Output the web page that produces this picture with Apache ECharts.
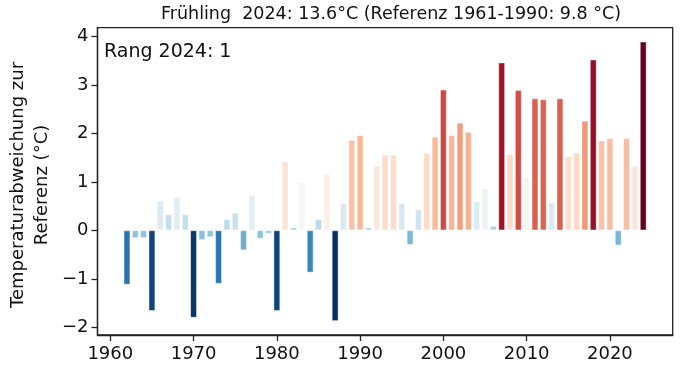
<!DOCTYPE html>
<html>
<head>
<meta charset="utf-8">
<script src="https://cdn.jsdelivr.net/npm/echarts@6/dist/echarts.min.js"></script>
<style>
html,body{margin:0;padding:0;background:#fff;}
#chart{width:680px;height:370px;}
</style>
</head>
<body>
<div id="chart"></div>
<script>
// ---- data ----
const years = [1962,1963,1964,1965,1966,1967,1968,1969,1970,1971,1972,1973,1974,1975,1976,1977,1978,1979,1980,1981,1982,1983,1984,1985,1986,1987,1988,1989,1990,1991,1992,1993,1994,1995,1996,1997,1998,1999,2000,2001,2002,2003,2004,2005,2006,2007,2008,2009,2010,2011,2012,2013,2014,2015,2016,2017,2018,2019,2020,2021,2022,2023,2024];
const anomalies = [-1.12,-0.16,-0.16,-1.66,0.60,0.33,0.69,0.33,-1.80,-0.20,-0.14,-1.10,0.23,0.36,-0.41,0.72,-0.17,-0.07,-1.66,1.42,0.06,0.99,-0.87,0.23,1.16,-1.87,0.56,1.86,1.96,0.06,1.33,1.56,1.56,0.56,-0.30,0.43,1.59,1.93,2.90,1.96,2.22,2.03,0.60,0.86,0.09,3.46,1.57,2.89,1.09,2.72,2.70,0.57,2.72,1.53,1.60,2.26,3.52,1.85,1.90,-0.31,1.90,1.33,3.89];
const xTicks = [1960,1970,1980,1990,2000,2010,2020];
const yTicks = [-2,-1,0,1,2,3,4];
const titleText = 'Frühling  2024: 13.6°C (Referenz 1961-1990: 9.8 °C)';
const rankText = 'Rang 2024: 1';
const yLabelLines = ['Temperaturabweichung zur', 'Referenz (°C)'];

// ---- colormap RdBu_r, linear normalisation over data range ----
const rdbu_r = ['#053061','#2166ac','#4393c3','#92c5de','#d1e5f0','#f7f7f7','#fddbc7','#f4a582','#d6604d','#b2182b','#67001f'];
function hex(c){return [parseInt(c.slice(1,3),16),parseInt(c.slice(3,5),16),parseInt(c.slice(5,7),16)];}
function cmap(t){
  t = Math.max(0, Math.min(1, t));
  const p = t * (rdbu_r.length - 1);
  const i = Math.min(Math.floor(p), rdbu_r.length - 2);
  const f = p - i;
  const a = hex(rdbu_r[i]), b = hex(rdbu_r[i+1]);
  const r = a.map((v,k)=>Math.round(v + (b[k]-v)*f));
  return 'rgb(' + r.join(',') + ')';
}
const vmin = Math.min(...anomalies), vmax = Math.max(...anomalies);

// axis extents like matplotlib's 5% margins
const xLo = years[0] - 0.4, xHi = years[years.length-1] + 0.4;
const xPad = (xHi - xLo) * 0.05;
const yPad = (vmax - vmin) * 0.05;

const font = 'DejaVu Sans';
const chart = echarts.init(document.getElementById('chart'));
chart.setOption({
  animation: false,
  backgroundColor: '#fff',
  title: {
    text: titleText, left: 386, textAlign: 'center', top: 0,
    textStyle: {fontFamily: font, fontSize: 17.5, fontWeight: 'normal', color: '#111'}
  },
  grid: {left: 97.5, right: 7.3, top: 27.7, bottom: 35, show: true, borderColor: '#222', borderWidth: 1.3, backgroundColor: 'transparent'},
  xAxis: {
    type: 'value', min: xLo - xPad, max: xHi + xPad,
    axisLine: {show: true, onZero: false, lineStyle: {color: '#222', width: 1.3}},
    splitLine: {show: false},
    axisTick: {show: true, customValues: xTicks, length: 6, lineStyle: {color: '#222', width: 1.3}},
    axisLabel: {customValues: xTicks, fontFamily: font, fontSize: 18, color: '#111', margin: 10,
      formatter: v => String(v)}
  },
  yAxis: {
    type: 'value', min: vmin - yPad, max: vmax + yPad,
    axisLine: {show: true, onZero: false, lineStyle: {color: '#222', width: 1.3}},
    splitLine: {show: false},
    axisTick: {show: true, customValues: yTicks, length: 6, lineStyle: {color: '#222', width: 1.3}},
    axisLabel: {customValues: yTicks, fontFamily: font, fontSize: 18, color: '#111', margin: 9,
      formatter: v => v < 0 ? '\u2212' + Math.abs(v) : String(v)}
  },
  series: [{
    type: 'bar',
    barWidth: 6.7,
    data: years.map((y,i)=>({
      value: [y, anomalies[i]],
      itemStyle: {color: cmap((anomalies[i]-vmin)/(vmax-vmin)), borderColor: 'rgba(255,255,255,0.55)', borderWidth: 0.8}
    }))
  }],
  graphic: [
    {type: 'text', left: 104, top: 43, style: {text: rankText, fontFamily: font, fontSize: 19, fill: '#111'}},
    {type: 'text', x: 18, y: 185, rotation: Math.PI/2, style: {text: yLabelLines[0], fontFamily: font, fontSize: 18, fill: '#111', textAlign: 'center', textVerticalAlign: 'middle'}},
    {type: 'text', x: 42, y: 185, rotation: Math.PI/2, style: {text: yLabelLines[1], fontFamily: font, fontSize: 18, fill: '#111', textAlign: 'center', textVerticalAlign: 'middle'}}
  ]
});
</script>
</body>
</html>
